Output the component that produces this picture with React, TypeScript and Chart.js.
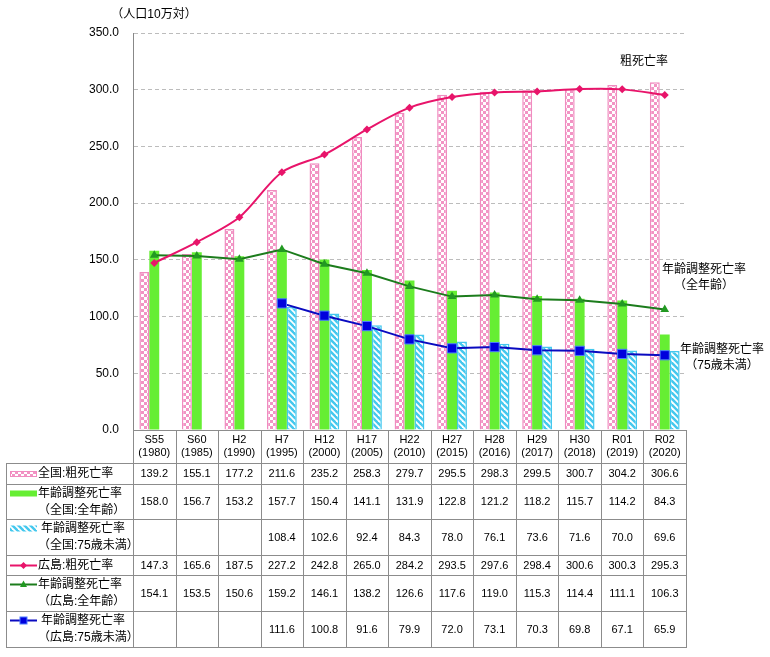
import React, { useEffect, useRef } from "react";
import { Chart, registerables } from "chart.js";

Chart.register(...registerables);

const periods = ["S55", "S60", "H2", "H7", "H12", "H17", "H22", "H27", "H28", "H29", "H30", "R01", "R02"];
const years = ["(1980)", "(1985)", "(1990)", "(1995)", "(2000)", "(2005)", "(2010)", "(2015)", "(2016)", "(2017)", "(2018)", "(2019)", "(2020)"];

const nationalCrude = [139.2, 155.1, 177.2, 211.6, 235.2, 258.3, 279.7, 295.5, 298.3, 299.5, 300.7, 304.2, 306.6];
const nationalAdjAll = [158.0, 156.7, 153.2, 157.7, 150.4, 141.1, 131.9, 122.8, 121.2, 118.2, 115.7, 114.2, 84.3];
const nationalAdjU75 = [null, null, null, 108.4, 102.6, 92.4, 84.3, 78.0, 76.1, 73.6, 71.6, 70.0, 69.6];
const hiroshimaCrude = [147.3, 165.6, 187.5, 227.2, 242.8, 265.0, 284.2, 293.5, 297.6, 298.4, 300.6, 300.3, 295.3];
const hiroshimaAdjAll = [154.1, 153.5, 150.6, 159.2, 146.1, 138.2, 126.6, 117.6, 119.0, 115.3, 114.4, 111.1, 106.3];
const hiroshimaAdjU75 = [null, null, null, 111.6, 100.8, 91.6, 79.9, 72.0, 73.1, 70.3, 69.8, 67.1, 65.9];

const yMin = 0;
const yMax = 350;
const yStep = 50;

const unitLabel = "（人口10万対）";
const seriesLabels = [
  ["全国:粗死亡率"],
  ["年齢調整死亡率", "（全国:全年齢）"],
  ["年齢調整死亡率", "（全国:75歳未満）"],
  ["広島:粗死亡率"],
  ["年齢調整死亡率", "（広島:全年齢）"],
  ["年齢調整死亡率", "（広島:75歳未満）"],
];
const noteCrude = ["粗死亡率"];
const noteAdjAll = ["年齢調整死亡率", "（全年齢）"];
const noteAdjU75 = ["年齢調整死亡率", "（75歳未満）"];

const FONT = "'Liberation Sans', 'Noto Sans CJK JP', sans-serif";
const PINK = "#f294c4";
const PINK_BORDER = "#f08cc0";
const GREEN = "#66ee33";
const CYAN = "#44c8ee";
const LINE_PINK = "#e8146a";
const LINE_GREEN = "#1c7c1c";
const LINE_BLUE = "#0a0ac0";

function makeCheck(): CanvasPattern | string {
  const c = document.createElement("canvas");
  c.width = 6;
  c.height = 6;
  const g = c.getContext("2d");
  if (!g) return PINK;
  g.fillStyle = "#ffffff";
  g.fillRect(0, 0, 6, 6);
  g.fillStyle = PINK;
  g.fillRect(0, 0, 3, 3);
  g.fillRect(3, 3, 3, 3);
  return g.createPattern(c, "repeat") || PINK;
}

function makeHatch(): CanvasPattern | string {
  const c = document.createElement("canvas");
  c.width = 6;
  c.height = 6;
  const g = c.getContext("2d");
  if (!g) return CYAN;
  g.fillStyle = CYAN;
  g.fillRect(0, 0, 6, 6);
  g.strokeStyle = "#ffffff";
  g.lineWidth = 1.8;
  for (const off of [-6, 0, 6]) {
    g.beginPath();
    g.moveTo(off - 1, -1);
    g.lineTo(off + 7, 7);
    g.stroke();
  }
  return g.createPattern(c, "repeat") || CYAN;
}

export default function App() {
  const ref = useRef<HTMLCanvasElement | null>(null);

  useEffect(() => {
    if (!ref.current) return;
    const check = makeCheck();
    const hatch = makeHatch();

    const drawMarker = (ctx: CanvasRenderingContext2D, kind: number, cx: number, cy: number) => {
      ctx.save();
      if (kind === 3) {
        ctx.fillStyle = LINE_PINK;
        ctx.beginPath();
        ctx.moveTo(cx, cy - 3.5);
        ctx.lineTo(cx + 3.5, cy);
        ctx.lineTo(cx, cy + 3.5);
        ctx.lineTo(cx - 3.5, cy);
        ctx.closePath();
        ctx.fill();
      } else if (kind === 4) {
        ctx.fillStyle = "#229922";
        ctx.beginPath();
        ctx.moveTo(cx, cy - 4);
        ctx.lineTo(cx + 3.5, cy + 2.5);
        ctx.lineTo(cx - 3.5, cy + 2.5);
        ctx.closePath();
        ctx.fill();
      } else if (kind === 5) {
        ctx.fillStyle = "#0000dd";
        ctx.fillRect(cx - 3.5, cy - 3.5, 7, 7);
        ctx.strokeStyle = "#4a7aff";
        ctx.lineWidth = 1;
        ctx.strokeRect(cx - 3.5, cy - 3.5, 7, 7);
      }
      ctx.restore();
    };

    const tablePlugin = {
      id: "dataTable",
      afterDraw(chart: any) {
        const ctx: CanvasRenderingContext2D = chart.ctx;
        const x = chart.scales.x;
        const area = chart.chartArea;
        const n = periods.length;
        const step = x.getPixelForValue(1) - x.getPixelForValue(0);
        const left = x.getPixelForValue(0) - step / 2;
        const right = x.getPixelForValue(n - 1) + step / 2;
        const top = area.bottom;
        const headerH = 33;
        const rowH = [21, 35, 36, 20, 36, 36];
        const legendLeft = 6;
        const rowTops: number[] = [];
        let yy = top + headerH;
        for (const h of rowH) {
          rowTops.push(yy);
          yy += h;
        }
        const bottom = yy;
        const rows = [nationalCrude, nationalAdjAll, nationalAdjU75, hiroshimaCrude, hiroshimaAdjAll, hiroshimaAdjU75];

        ctx.save();
        ctx.strokeStyle = "#8c8c8c";
        ctx.lineWidth = 1;
        const hl = (y: number, x0: number, x1: number) => {
          ctx.beginPath();
          ctx.moveTo(x0, Math.round(y) + 0.5);
          ctx.lineTo(x1, Math.round(y) + 0.5);
          ctx.stroke();
        };
        const vl = (xv: number, y0: number, y1: number) => {
          ctx.beginPath();
          ctx.moveTo(Math.round(xv) + 0.5, y0);
          ctx.lineTo(Math.round(xv) + 0.5, y1);
          ctx.stroke();
        };
        hl(top, left, right + 1);
        for (let r = 0; r < rowH.length; r++) hl(rowTops[r], legendLeft, right + 1);
        hl(bottom, legendLeft, right + 1);
        vl(legendLeft, top + headerH, bottom + 1);
        for (let i = 0; i <= n; i++) vl(left + i * step, top, bottom + 1);

        ctx.fillStyle = "#000";
        ctx.textAlign = "center";
        ctx.textBaseline = "middle";
        ctx.font = `11px ${FONT}`;
        for (let i = 0; i < n; i++) {
          const cx = x.getPixelForValue(i);
          ctx.fillText(periods[i], cx, top + 10);
          ctx.fillText(years[i], cx, top + 23);
          for (let r = 0; r < rows.length; r++) {
            const v = rows[r][i];
            if (v === null || v === undefined) continue;
            ctx.fillText((v as number).toFixed(1), cx, rowTops[r] + rowH[r] / 2 + 0.5);
          }
        }

        // legend column
        ctx.font = `12px ${FONT}`;
        ctx.textAlign = "left";
        for (let r = 0; r < seriesLabels.length; r++) {
          const lines = seriesLabels[r];
          const y1 = lines.length === 1 ? rowTops[r] + rowH[r] / 2 + 0.5 : rowTops[r] + 9.5;
          if (r === 0) {
            ctx.fillStyle = check as any;
            ctx.fillRect(10, y1 - 3, 27, 6);
            ctx.strokeStyle = PINK_BORDER;
            ctx.strokeRect(10.5, y1 - 2.5, 26, 5);
          } else if (r === 1) {
            ctx.fillStyle = GREEN;
            ctx.fillRect(10, y1 - 3, 27, 6);
          } else if (r === 2) {
            ctx.fillStyle = hatch as any;
            ctx.fillRect(10, y1 - 3, 27, 6);
          } else {
            const col = r === 3 ? LINE_PINK : r === 4 ? LINE_GREEN : LINE_BLUE;
            ctx.strokeStyle = col;
            ctx.lineWidth = 2;
            ctx.beginPath();
            ctx.moveTo(10, y1);
            ctx.lineTo(37, y1);
            ctx.stroke();
            ctx.lineWidth = 1;
            drawMarker(ctx, r, 23.5, y1);
          }
          ctx.fillStyle = "#000";
          const x1 = r === 2 || r === 5 ? 41 : 38;
          ctx.fillText(lines[0], x1, y1);
          if (lines.length > 1) ctx.fillText(lines[1], 38, rowTops[r] + 26.5);
        }

        // annotations
        ctx.textAlign = "center";
        ctx.font = `12px ${FONT}`;
        ctx.fillText(unitLabel, 154, 15);
        ctx.fillText(noteCrude[0], 644, 62);
        ctx.fillText(noteAdjAll[0], 704, 270);
        ctx.fillText(noteAdjAll[1], 704, 286);
        ctx.fillText(noteAdjU75[0], 722, 350);
        ctx.fillText(noteAdjU75[1], 722, 366);
        ctx.restore();
      },
    };

    const chart = new Chart(ref.current, {
      type: "bar",
      data: {
        labels: periods,
        datasets: [
          {
            type: "line",
            label: "広島:粗死亡率",
            data: hiroshimaCrude,
            borderColor: LINE_PINK,
            backgroundColor: LINE_PINK,
            borderWidth: 2,
            pointStyle: "rectRot",
            pointRadius: 4,
            pointBorderWidth: 0,
            tension: 0.3,
            order: 0,
          } as any,
          {
            type: "line",
            label: "広島:全年齢",
            data: hiroshimaAdjAll,
            borderColor: LINE_GREEN,
            backgroundColor: "#229922",
            borderWidth: 2,
            pointStyle: "triangle",
            pointRadius: 5,
            pointBorderWidth: 0,
            tension: 0,
            order: 0,
          } as any,
          {
            type: "line",
            label: "広島:75歳未満",
            data: hiroshimaAdjU75,
            borderColor: LINE_BLUE,
            backgroundColor: "#0000dd",
            pointBorderColor: "#4a7aff",
            borderWidth: 2,
            pointStyle: "rect",
            pointRadius: 6.5,
            pointBorderWidth: 1,
            tension: 0,
            order: 0,
          } as any,
          {
            type: "bar",
            label: "全国:粗死亡率",
            data: nationalCrude,
            backgroundColor: check as any,
            borderColor: PINK_BORDER,
            borderWidth: 1.5,
            order: 1,
          },
          {
            type: "bar",
            label: "全国:全年齢",
            data: nationalAdjAll,
            backgroundColor: GREEN,
            borderWidth: 0,
            order: 1,
          },
          {
            type: "bar",
            label: "全国:75歳未満",
            data: nationalAdjU75,
            backgroundColor: hatch as any,
            borderColor: CYAN,
            borderWidth: 1.5,
            order: 1,
          },
        ],
      },
      options: {
        responsive: false,
        animation: false,
        devicePixelRatio: 1,
        layout: { padding: { left: 0, right: 84, top: 33, bottom: 0 } },
        plugins: { legend: { display: false }, tooltip: { enabled: false } },
        datasets: { bar: { categoryPercentage: 0.7, barPercentage: 1.0 } },
        scales: {
          x: {
            type: "category",
            grid: { display: false },
            ticks: { display: false },
            border: { display: false },
            afterFit: (s: any) => {
              s.height = 227;
            },
          },
          y: {
            min: yMin,
            max: yMax,
            ticks: {
              stepSize: yStep,
              padding: 14,
              color: "#000",
              font: { family: FONT, size: 12 },
              callback: (v: any) => Number(v).toFixed(1),
            },
            grid: { color: "#bcbcbc", drawTicks: false, lineWidth: 1 },
            border: { display: true, color: "#888888", width: 1, dash: [4, 3] },
            afterFit: (s: any) => {
              s.width = 133;
            },
          },
        },
      } as any,
      plugins: [tablePlugin],
    });
    return () => chart.destroy();
  }, []);

  return (
    <div style={{ position: "absolute", left: 0, top: 0, width: 770, height: 657, background: "#fff" }}>
      <canvas ref={ref} width={770} height={657} />
    </div>
  );
}
